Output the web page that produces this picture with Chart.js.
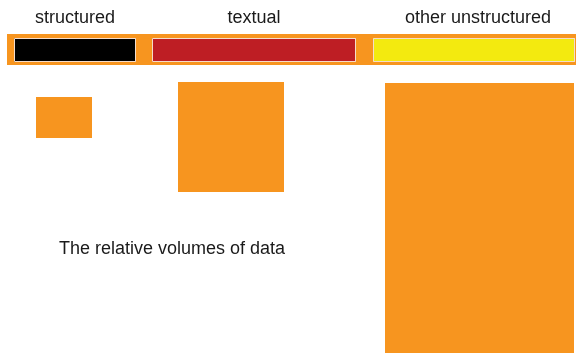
<!DOCTYPE html>
<html>
<head>
<meta charset="utf-8">
<script src="https://cdn.jsdelivr.net/npm/chart.js@4"></script>
<style>
  html, body { margin: 0; padding: 0; background: #ffffff; }
  #chart { display: block; }
</style>
</head>
<body>
<canvas id="chart" width="576" height="353"></canvas>
<script>
// data kinds shown in the key
const categories = ["structured", "textual", "other unstructured"];
// key swatch extents (left, right) on the x units
const swatchStart = [14, 152, 373];
const swatchEnd = [136, 356, 575];
// volume blocks for each kind (x range, y range)
const volumeLeft = [36, 178, 385];
const volumeRight = [92, 284, 574];
const volumeTop = [97, 82, 83];
const volumeBottom = [138, 192, 353];

const caption = "The relative volumes of data";

const ORANGE = "#f7951f";
const swatchColors = ["#000000", "#be1e24", "#f3ea0f"];

// a rectangle is a flat 2 point line filled down to a y value
function block(x0, x1, y0, y1, color, order) {
  return {
    data: [{ x: x0, y: y0 }, { x: x1, y: y0 }],
    fill: { value: y1 },
    backgroundColor: color,
    borderWidth: 0,
    pointRadius: 0,
    order: order,
  };
}

function outline(x0, x1, y0, y1, color) {
  return {
    data: [
      { x: x0 + 0.5, y: y0 + 0.5 },
      { x: x1 - 0.5, y: y0 + 0.5 },
      { x: x1 - 0.5, y: y1 - 0.5 },
      { x: x0 + 0.5, y: y1 - 0.5 },
      { x: x0 + 0.5, y: y0 + 0.5 },
    ],
    fill: false,
    borderColor: color,
    borderWidth: 1,
    pointRadius: 0,
    order: 0,
  };
}

var datasets = [];
// orange band behind the key
datasets.push(block(7, 576, 34, 65, ORANGE, 3));
for (let i = 0; i < categories.length; i++) {
  datasets.push(block(swatchStart[i], swatchEnd[i], 38, 62, swatchColors[i], 2));
  datasets.push(outline(swatchStart[i], swatchEnd[i], 38, 62, "#f4dccb"));
  datasets.push(block(volumeLeft[i], volumeRight[i], volumeTop[i], volumeBottom[i], ORANGE, 1));
}

const textPlugin = {
  id: "texts",
  afterDraw(chart) {
    const ctx = chart.ctx;
    const xs = chart.scales.x;
    const ys = chart.scales.y;
    ctx.save();
    ctx.fillStyle = "#1a1a1a";
    ctx.font = '18px "Liberation Sans", Arial, sans-serif';
    ctx.textAlign = "center";
    ctx.textBaseline = "alphabetic";
    for (let i = 0; i < categories.length; i++) {
      const mid = (swatchStart[i] + swatchEnd[i]) / 2;
      ctx.fillText(categories[i], xs.getPixelForValue(mid + (i === 2 ? 4 : 0)), ys.getPixelForValue(23));
    }
    ctx.fillText(caption, xs.getPixelForValue(172), ys.getPixelForValue(254));
    ctx.restore();
  },
};

new Chart(document.getElementById("chart").getContext("2d"), {
  type: "scatter",
  data: { datasets: datasets },
  options: {
    responsive: false,
    animation: false,
    showLine: true,
    layout: { padding: 0 },
    elements: { line: { tension: 0 } },
    plugins: {
      legend: { display: false },
      tooltip: { enabled: false },
    },
    scales: {
      x: { type: "linear", min: 0, max: 576, display: false },
      y: { type: "linear", min: 0, max: 353, reverse: true, display: false },
    },
  },
  plugins: [textPlugin],
});
</script>
</body>
</html>
